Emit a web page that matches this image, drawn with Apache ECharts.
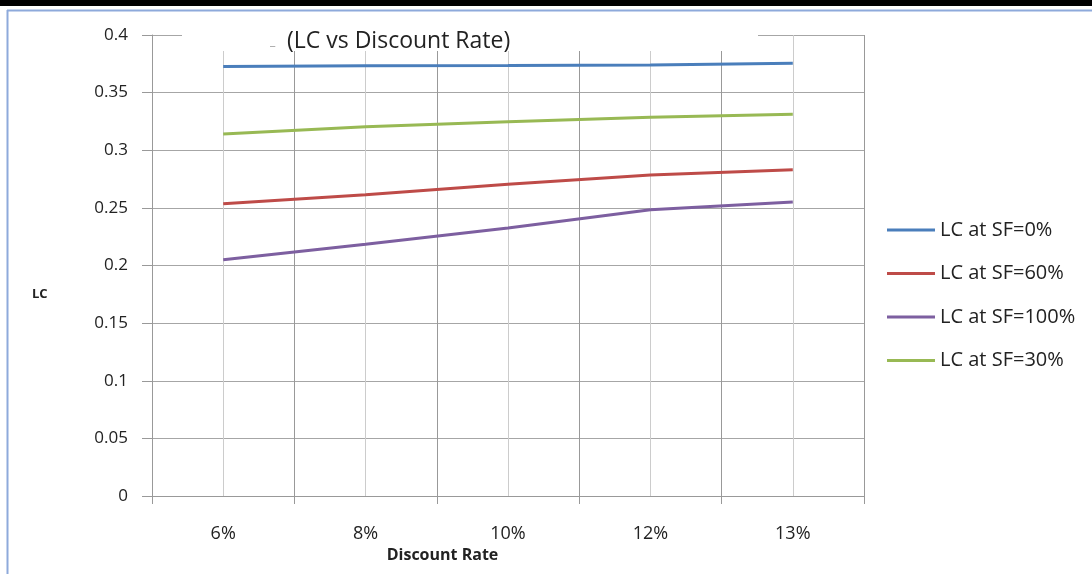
<!DOCTYPE html>
<html>
<head>
<meta charset="utf-8">
<script src="https://cdn.jsdelivr.net/npm/echarts@6/dist/echarts.min.js"></script>
<style>
  html, body { margin: 0; padding: 0; background: #fff; }
  #chart { width: 1092px; height: 574px; }
</style>
</head>
<body>
<div id="chart"></div>
<script>
// Discount rates on the category axis
const discountRates = ['6%', '8%', '10%', '12%', '13%'];

// Life-cycle cost (LC) for each salvage fraction (SF)
const lcSF0   = [0.3727, 0.3733, 0.3735, 0.3740, 0.3755];
const lcSF60  = [0.2535, 0.2613, 0.2706, 0.2786, 0.2830];
const lcSF100 = [0.2050, 0.2185, 0.2326, 0.2483, 0.2550];
const lcSF30  = [0.3142, 0.3203, 0.3247, 0.3286, 0.3313];

// LC axis range and step
const lcMin = 0;
const lcMax = 0.4;
const lcStep = 0.05;

const seriesDefs = [
  { name: 'LC at SF=0%',   data: lcSF0,   color: '#4a7ebb' },
  { name: 'LC at SF=60%',  data: lcSF60,  color: '#be4b48' },
  { name: 'LC at SF=100%', data: lcSF100, color: '#7d5fa0' },
  { name: 'LC at SF=30%',  data: lcSF30,  color: '#98b954' }
];

const FONT = '"Open Sans", "Noto Sans", sans-serif';
const TEXT = '#222';
const chart = echarts.init(document.getElementById('chart'), null, { renderer: 'canvas' });

chart.setOption({
  animation: false,
  backgroundColor: '#fff',
  textStyle: { fontFamily: FONT },
  title: {
    text: '(LC vs Discount Rate)',
    left: 287,
    top: 30,
    padding: 0,
    textStyle: { fontFamily: FONT, fontSize: 23, fontWeight: 'normal', color: TEXT }
  },
  graphic: [
    // window frame: black band and blue border
    { type: 'rect', shape: { x: 0, y: 0, width: 1092, height: 6 }, style: { fill: '#000' }, z: 50 },
    { type: 'line', shape: { x1: 7, y1: 10.5, x2: 1092, y2: 10.5 }, style: { stroke: '#8eaadb', lineWidth: 2 }, z: 50 },
    { type: 'line', shape: { x1: 7.5, y1: 10, x2: 7.5, y2: 574 }, style: { stroke: '#8eaadb', lineWidth: 2 }, z: 50 },
    // white box behind the chart title
    { type: 'rect', shape: { x: 182, y: 12, width: 576, height: 39 }, style: { fill: '#fff' }, z: 1 },
    { type: 'text', left: 270, top: 36, style: { text: '_', fill: '#999', font: '12px ' + FONT }, z: 3 },
    // LC axis title
    { type: 'text', left: 32, top: 288, style: { text: 'LC', fill: TEXT, font: 'bold 13px ' + FONT }, z: 3 }
  ],
  legend: {
    orient: 'vertical',
    left: 887,
    top: 220,
    padding: 0,
    icon: 'rect',
    itemWidth: 48,
    itemHeight: 3,
    itemGap: 23.5,
    textStyle: { fontFamily: FONT, fontSize: 20, color: TEXT, lineHeight: 20 },
    data: seriesDefs.map(s => s.name)
  },
  grid: { left: 152, right: 228, top: 35, bottom: 78, containLabel: false },
  xAxis: [
    {
      type: 'category',
      data: discountRates,
      boundaryGap: true,
      position: 'bottom',
      name: 'Discount Rate',
      nameLocation: 'middle',
      nameGap: 48,
      nameTextStyle: { fontFamily: FONT, fontSize: 16, fontWeight: 'bold', color: TEXT, padding: [0, 131, 0, 0] },
      axisLine: { show: true, lineStyle: { color: '#999', width: 1 } },
      axisTick: { show: true, length: 8, lineStyle: { color: '#999' } },
      axisLabel: { margin: 29, fontSize: 18, color: TEXT, fontFamily: FONT },
      splitLine: { show: false }
    },
    {
      // half-step grid: darker lines at category boundaries, lighter at centres
      type: 'value',
      min: 0,
      max: 10,
      interval: 1,
      position: 'bottom',
      axisLine: { show: false },
      axisTick: { show: false },
      axisLabel: { show: false },
      splitLine: { show: true, lineStyle: { color: ['#999', '#ccc'], width: 1 } }
    }
  ],
  yAxis: {
    type: 'value',
    min: lcMin,
    max: lcMax,
    interval: lcStep,
    axisLine: { show: true, lineStyle: { color: '#999', width: 1 } },
    axisTick: { show: true, length: 10, lineStyle: { color: '#999' } },
    axisLabel: { margin: 24, fontSize: 17, color: TEXT, fontFamily: FONT },
    splitLine: { show: true, lineStyle: { color: '#a6a6a6', width: 1 } }
  },
  series: seriesDefs.map(s => ({
    name: s.name,
    type: 'line',
    xAxisIndex: 0,
    data: s.data,
    symbol: 'none',
    smooth: false,
    lineStyle: { color: s.color, width: 3 },
    itemStyle: { color: s.color },
    z: 3
  }))
});
</script>
</body>
</html>
